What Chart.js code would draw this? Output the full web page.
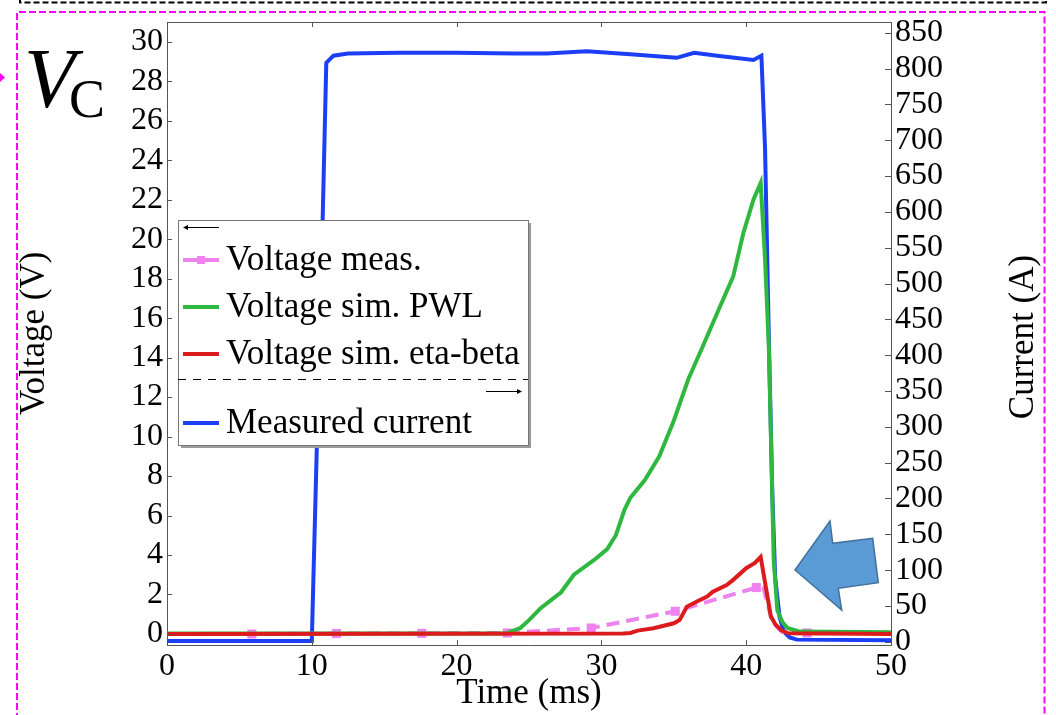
<!DOCTYPE html>
<html>
<head>
<meta charset="utf-8">
<script src="https://cdn.jsdelivr.net/npm/chart.js@4.4.1/dist/chart.umd.min.js"></script>
<style>
  html, body { margin: 0; padding: 0; background: #fff; }
  #wrap { position: relative; width: 1056px; height: 715px; }
</style>
</head>
<body>
<div id="wrap"><canvas id="c"></canvas></div>
<script>
// ---------- data ----------
const timeTicks = [0, 10, 20, 30, 40, 50];
const voltageTicks = [0, 2, 4, 6, 8, 10, 12, 14, 16, 18, 20, 22, 24, 26, 28, 30];
const currentTicks = [0, 50, 100, 150, 200, 250, 300, 350, 400, 450, 500, 550, 600, 650, 700, 750, 800, 850];

const timeMeas = [0, 5.86, 11.7, 17.6, 23.5, 29.3, 35.1, 40.7, 41.2, 41.8, 42.5, 44.2, 50];
const voltMeas = [0, 0, 0.02, 0.03, 0.05, 0.3, 1.15, 2.35, 2.3, 0.6, 0.1, 0.05, 0.05];
const measMarker = [false, true, true, true, true, true, true, true, false, false, false, true, false];

const timePWL = [0, 23.0, 23.5, 24.4, 25.0, 25.8, 26.5, 27.2, 28.1, 29.5, 30.4, 31.0, 31.6, 32.0, 33.0, 34.0, 35.0, 36.0, 36.9, 38.2, 39.1, 39.8, 40.5, 41.0, 41.3, 41.57, 41.9, 42.15, 42.5, 42.85, 43.7, 50];
const voltPWL = [0.02, 0.02, 0.05, 0.3, 0.7, 1.3, 1.7, 2.1, 3.0, 3.75, 4.3, 5.0, 6.3, 6.9, 7.8, 9.0, 10.8, 12.9, 14.4, 16.6, 18.1, 20.3, 22.0, 22.85, 19.0, 14.4, 3.75, 1.2, 0.6, 0.3, 0.12, 0.08];

const timeEtaBeta = [0, 31.5, 32.0, 32.5, 33.6, 35.0, 35.4, 35.9, 36.6, 37.3, 37.7, 38.65, 39.1, 40.0, 40.6, 41.0, 41.35, 41.7, 42.0, 42.4, 42.9, 50];
const voltEtaBeta = [0, 0.02, 0.05, 0.17, 0.29, 0.54, 0.7, 1.38, 1.64, 1.89, 2.14, 2.48, 2.74, 3.33, 3.6, 3.9, 2.4, 0.9, 0.5, 0.2, 0.03, 0];

const timeCurrent = [0, 10.0, 10.35, 10.75, 11.0, 11.5, 12.5, 16, 20, 24, 26.2, 29.0, 32.0, 35.2, 36.4, 38.0, 40.5, 41.05, 41.3, 41.58, 41.8, 42.0, 42.3, 42.6, 43.0, 43.5, 50];
const currentMeas = [1, 1, 275, 590, 808, 818, 821, 822, 822, 821, 821, 824, 820, 815, 822, 818, 812, 818, 690, 407, 210, 90, 35, 14, 6, 3, 2];

const labels = ['Voltage meas.', 'Voltage sim. PWL', 'Voltage sim. eta-beta', 'Measured current'];
const colors = { meas: '#ee82ee', pwl: '#2fb83f', eta: '#dc1c1c', cur: '#1c3ff5' };

const pts = (xs, ys) => xs.map((x, i) => ({ x: x, y: ys[i] }));
const SERIF = "'Liberation Serif', 'Times New Roman', serif";

// ---------- decoration plugin ----------
const deco = {
  id: 'deco',
  afterDraw(chart) {
    const ctx = chart.ctx;
    const ca = chart.chartArea;
    const xs = chart.scales.x, yV = chart.scales.y, yA = chart.scales.y2;
    ctx.save();
    // top border of plot box
    ctx.strokeStyle = '#555'; ctx.lineWidth = 1;
    ctx.beginPath(); ctx.moveTo(ca.left, ca.top + 0.5); ctx.lineTo(ca.right, ca.top + 0.5); ctx.stroke();
    // inward ticks
    ctx.beginPath();
    voltageTicks.forEach(v => { const y = Math.round(yV.getPixelForValue(v)) + 0.5; ctx.moveTo(ca.left, y); ctx.lineTo(ca.left + 5, y); });
    currentTicks.forEach(v => { const y = Math.round(yA.getPixelForValue(v)) + 0.5; ctx.moveTo(ca.right, y); ctx.lineTo(ca.right - 6, y); });
    timeTicks.slice(1, -1).forEach(t => { const x = Math.round(xs.getPixelForValue(t)) + 0.5;
      ctx.moveTo(x, ca.bottom); ctx.lineTo(x, ca.bottom - 5); ctx.moveTo(x, ca.top); ctx.lineTo(x, ca.top + 5); });
    ctx.stroke();

    // right axis title (reads bottom-to-top)
    ctx.fillStyle = '#000';
    ctx.font = '35px ' + SERIF;
    ctx.textAlign = 'center'; ctx.textBaseline = 'middle';
    ctx.save(); ctx.translate(1024, 337); ctx.rotate(-Math.PI / 2);
    ctx.fillText(chart.options.scales.y2.title.text, 0, 0);
    ctx.restore();

    // legend box
    const L = 178, T = 220, R = 528, B = 445;
    ctx.fillStyle = '#9a9a9a';
    ctx.fillRect(L + 3, T + 3, R - L, B - T);
    ctx.fillStyle = '#fff';
    ctx.fillRect(L, T, R - L, B - T);
    ctx.strokeStyle = '#777'; ctx.lineWidth = 1;
    ctx.strokeRect(L + 0.5, T + 0.5, R - L, B - T);
    // left arrow
    ctx.strokeStyle = '#000'; ctx.fillStyle = '#000'; ctx.lineWidth = 1;
    ctx.beginPath(); ctx.moveTo(219, 227.5); ctx.lineTo(186, 227.5); ctx.stroke();
    ctx.beginPath(); ctx.moveTo(183, 227.5); ctx.lineTo(188, 225); ctx.lineTo(188, 230); ctx.closePath(); ctx.fill();
    // entries
    const entries = [
      { label: labels[0], color: colors.meas, y: 260, marker: true },
      { label: labels[1], color: colors.pwl, y: 307 },
      { label: labels[2], color: colors.eta, y: 354 },
      { label: labels[3], color: colors.cur, y: 423 }
    ];
    ctx.font = '35px ' + SERIF;
    ctx.textAlign = 'left'; ctx.textBaseline = 'middle';
    entries.forEach(e => {
      ctx.strokeStyle = e.color; ctx.lineWidth = 4; ctx.setLineDash([]);
      ctx.beginPath(); ctx.moveTo(183, e.y); ctx.lineTo(219, e.y); ctx.stroke();
      if (e.marker) { ctx.fillStyle = e.color; ctx.fillRect(197, e.y - 4, 8, 8); }
      ctx.fillStyle = '#000';
      ctx.fillText(e.label, 226, e.y + 1);
    });
    // dashed separator
    ctx.strokeStyle = '#000'; ctx.lineWidth = 1; ctx.setLineDash([8, 7]);
    ctx.beginPath(); ctx.moveTo(L, 379.5); ctx.lineTo(R, 379.5); ctx.stroke();
    ctx.setLineDash([]);
    // right arrow
    ctx.beginPath(); ctx.moveTo(486, 391.5); ctx.lineTo(518, 391.5); ctx.stroke();
    ctx.beginPath(); ctx.moveTo(522, 391.5); ctx.lineTo(517, 389); ctx.lineTo(517, 394); ctx.closePath(); ctx.fill();

    // blue callout arrow
    ctx.beginPath();
    ctx.moveTo(795, 570); ctx.lineTo(830, 521); ctx.lineTo(832.7, 543.3); ctx.lineTo(872.7, 538.3);
    ctx.lineTo(878.3, 582.7); ctx.lineTo(838.3, 588.3); ctx.lineTo(841.7, 610); ctx.closePath();
    ctx.fillStyle = '#5b9bd5'; ctx.fill();
    ctx.strokeStyle = '#41719c'; ctx.lineWidth = 1.5; ctx.stroke();

    // V_C label
    ctx.fillStyle = '#000'; ctx.textBaseline = 'alphabetic'; ctx.textAlign = 'left';
    ctx.font = 'italic 84px ' + SERIF;
    ctx.fillText('V', 24, 107);
    ctx.font = '54px ' + SERIF;
    ctx.fillText('C', 69, 117);

    // dashed frames
    ctx.lineWidth = 2; ctx.strokeStyle = '#000'; ctx.setLineDash([6, 3]);
    ctx.beginPath(); ctx.moveTo(20, -2); ctx.lineTo(20, 2.5); ctx.lineTo(1046, 2.5); ctx.lineTo(1046, -2); ctx.stroke();
    ctx.strokeStyle = '#ff00ff'; ctx.setLineDash([7, 3]);
    ctx.beginPath(); ctx.moveTo(17, 720); ctx.lineTo(17, 12); ctx.lineTo(1044.5, 12); ctx.lineTo(1044.5, 720); ctx.stroke();
    ctx.setLineDash([]);
    ctx.fillStyle = '#ff00ff';
    ctx.beginPath(); ctx.moveTo(0, 73); ctx.lineTo(5, 77.5); ctx.lineTo(0, 82); ctx.closePath(); ctx.fill();
    ctx.restore();
  }
};

// ---------- chart ----------
const tickFont = { family: SERIF, size: 32, lineHeight: 1 };
const titleFont = { family: SERIF, size: 35, lineHeight: 1.2 };

new Chart(document.getElementById('c'), {
  type: 'line',
  data: {
    datasets: [
      { label: labels[2], data: pts(timeEtaBeta, voltEtaBeta), yAxisID: 'y', borderColor: colors.eta, borderWidth: 4, pointRadius: 0, tension: 0 },
      { label: labels[1], data: pts(timePWL, voltPWL), yAxisID: 'y', borderColor: colors.pwl, borderWidth: 4, pointRadius: 0, tension: 0 },
      { label: labels[0], data: pts(timeMeas, voltMeas), yAxisID: 'y', borderColor: colors.meas, backgroundColor: colors.meas,
        borderWidth: 4, borderDash: [13, 7], tension: 0, pointStyle: 'rect',
        pointRadius: c => measMarker[c.dataIndex] ? 6.4 : 0, pointHoverRadius: 0, pointBorderWidth: 0 },
      { label: labels[3], data: pts(timeCurrent, currentMeas), yAxisID: 'y2', borderColor: colors.cur, borderWidth: 4, pointRadius: 0, tension: 0 }
    ]
  },
  options: {
    responsive: true,
    maintainAspectRatio: false,
    animation: false,
    events: [],
    layout: { padding: { left: 14, top: 22, right: 0, bottom: 0 } },
    plugins: { legend: { display: false }, tooltip: { enabled: false } },
    scales: {
      x: {
        type: 'linear', min: 0, max: 50,
        afterBuildTicks: s => { s.ticks = timeTicks.map(v => ({ value: v })); },
        afterFit: s => { s.height = 70; },
        grid: { display: false, drawTicks: false },
        border: { display: true, color: '#555', width: 1 },
        ticks: { font: tickFont, color: '#000', padding: 6, maxRotation: 0, autoSkip: false },
        title: { display: true, text: 'Time (ms)', font: titleFont, color: '#000', padding: 0 }
      },
      y: {
        type: 'linear', position: 'left', min: -0.56, max: 31.0,
        afterBuildTicks: s => { s.ticks = voltageTicks.map(v => ({ value: v })); },
        afterFit: s => { s.width = 153; },
        grid: { display: false, drawTicks: false },
        border: { display: true, color: '#555', width: 1 },
        ticks: { font: tickFont, color: '#000', padding: 4, autoSkip: false },
        title: { display: true, text: 'Voltage (V)', font: titleFont, color: '#000', padding: 0 }
      },
      y2: {
        type: 'linear', position: 'right', min: -4.5, max: 865,
        afterBuildTicks: s => { s.ticks = currentTicks.map(v => ({ value: v })); },
        afterFit: s => { s.width = 165; },
        grid: { display: false, drawTicks: false },
        border: { display: true, color: '#555', width: 1 },
        ticks: { font: tickFont, color: '#000', padding: 4, autoSkip: false },
        title: { display: false, text: 'Current (A)', font: titleFont, color: '#000', padding: 0 }
      }
    }
  },
  plugins: [deco]
});
</script>
</body>
</html>
